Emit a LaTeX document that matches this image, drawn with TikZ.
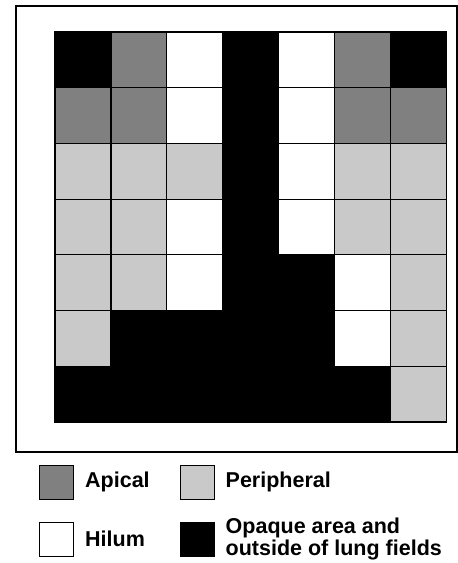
\documentclass[tikz,border=0pt]{standalone}
\usepackage{fontspec}
\setmainfont{Liberation Sans}
\usetikzlibrary{positioning}
\definecolor{apical}{gray}{0.5}
\definecolor{peripheral}{gray}{0.79}

\begin{document}
\begin{tikzpicture}[
	x=1pt, y=-1pt,
	node distance=11pt,
	cell/.style={draw, line width=1.2pt, minimum width=55.9pt, minimum height=55.7pt, inner sep=0pt, outer sep=0pt},
	swatch/.style={draw, line width=1pt, minimum width=34pt, minimum height=34pt, inner sep=0pt},
	lbl/.style={font=\bfseries\fontsize{21.5}{22}\selectfont, align=left, inner sep=0pt}
]
\useasboundingbox (0,0) rectangle (458,563);
\draw[line width=1.5pt] (16,6) rectangle (457,452);

% lung grid, one row per line
\foreach \r/\cells in {
	1/{black,apical,white,black,white,apical,black},
	2/{apical,apical,white,black,white,apical,apical},
	3/{peripheral,peripheral,peripheral,black,white,peripheral,peripheral},
	4/{peripheral,peripheral,white,black,white,peripheral,peripheral},
	5/{peripheral,peripheral,white,black,black,white,peripheral},
	6/{peripheral,black,black,black,black,white,peripheral},
	7/{black,black,black,black,black,black,peripheral}}
	\foreach \c [count=\col] in \cells
		\node[cell, fill=\c] (c\r\col) at ({55+55.9*(\col-0.5)}, {32+55.7*(\r-0.5)}) {};

% legend
\node[swatch, fill=apical] (sa) at (56.5,482) {};
\node[lbl, right=of sa] (la) {Apical};
\node[swatch, fill=peripheral] (sp) at (197,482) {};
\node[lbl, right=of sp] (lp) {Peripheral};
\node[swatch, fill=white] (sh) at (56.5,539) {};
\node[lbl, right=of sh] (lh) {Hilum};
\node[swatch, fill=black] (so) at (197,539) {};
\node[lbl, right=of so] (lo) {Opaque area and\\outside of lung fields};
\end{tikzpicture}
\end{document}
